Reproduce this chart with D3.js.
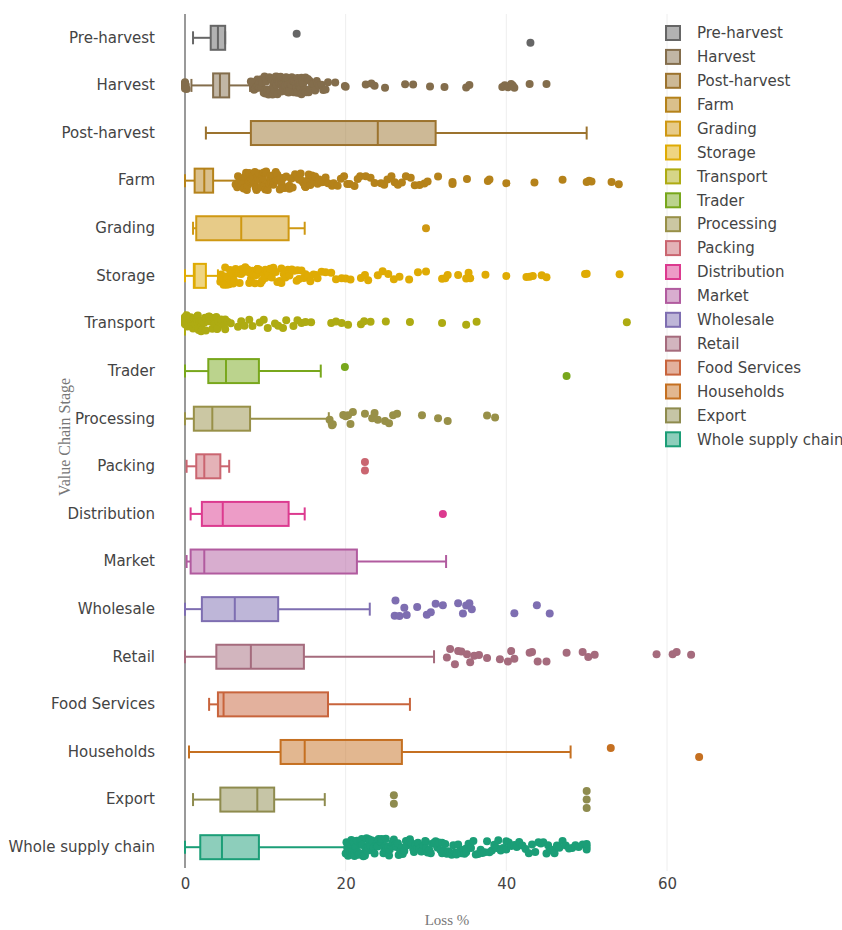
<!DOCTYPE html>
<html>
<head>
<meta charset="utf-8">
<script src="https://cdn.jsdelivr.net/npm/d3@7/dist/d3.min.js"></script>
<style>
  html, body { margin: 0; padding: 0; background: #fff; }
  svg { display: block; }
</style>
</head>
<body>
<svg id="chart" width="842" height="930"></svg>
<script>
// Value chain stages, listed top to bottom
const categories = ["Pre-harvest", "Harvest", "Post-harvest", "Farm", "Grading", "Storage",
  "Transport", "Trader", "Processing", "Packing", "Distribution", "Market", "Wholesale",
  "Retail", "Food Services", "Households", "Export", "Whole supply chain"];

// Box statistics (loss %)
const lowerWhisker = [1.0, 0.8, 2.6, 0.0, 1.0, 0.0, 0.0, 0.0, 0.0, 0.2, 0.7, 0.2, 0.0, 0.0, 3.0, 0.5, 1.0, 0.0];
const q1Values     = [3.2, 3.5, 8.2, 1.2, 1.4, 1.1, 0.0, 2.9, 1.1, 1.4, 2.1, 0.7, 2.1, 3.9, 4.1, 11.9, 4.4, 1.9];
const medianValues = [4.1, 4.35, 24.0, 2.4, 7.0, 1.2, 0.0, 5.1, 3.4, 2.4, 4.7, 2.4, 6.2, 8.2, 4.8, 14.9, 9.0, 4.6];
const q3Values     = [5.0, 5.5, 31.2, 3.5, 12.9, 2.6, 0.0, 9.2, 8.1, 4.4, 12.9, 21.4, 11.6, 14.8, 17.8, 27.0, 11.1, 9.2];
const upperWhisker = [5.0, 8.1, 50.0, 6.5, 14.9, 4.1, 0.0, 16.9, 17.9, 5.5, 14.9, 32.5, 23.0, 31.0, 28.0, 48.0, 17.4, 19.9];

// Points beyond the whiskers, one list per stage
const preHarvestOutliers = [13.9, 43.0];
const harvestOutliers = [0, 0, 0, 0, 0, 0, 0.1, 0.2,
  8.2, 8.3, 8.5, 8.6, 8.7, 8.8, 9.0, 9.0, 9.1, 9.2, 9.3, 9.5, 9.5, 9.6, 9.8, 9.9, 10.0, 10.0,
  10.0, 10.1, 10.2, 10.3, 10.4, 10.5, 10.5, 10.6, 10.7, 10.8, 10.9, 11.0, 11.0, 11.0, 11.1,
  11.2, 11.3, 11.4, 11.5, 11.5, 11.6, 11.7, 11.8, 11.9, 12.0, 12.0, 12.0, 12.1, 12.2, 12.3,
  12.4, 12.5, 12.5, 12.6, 12.7, 12.8, 12.9, 13.0, 13.0, 13.0, 13.1, 13.2, 13.3, 13.4, 13.5,
  13.5, 13.6, 13.7, 13.8, 13.9, 14.0, 14.0, 14.0, 14.1, 14.2, 14.3, 14.4, 14.5, 14.5, 14.6,
  14.7, 14.8, 15.0, 15.0, 15.0, 15.1, 15.3, 15.4, 15.5, 15.6, 15.8, 16.0, 16.0, 16.2, 16.4,
  16.5, 16.7, 17.0, 17.2, 17.5, 17.8,
  18.7, 19.9, 20.0, 22.5, 23.2, 23.6, 24.9, 27.4, 28.4, 30.5, 32.3, 35.0, 35.4,
  39.5, 39.8, 40.2, 40.6, 40.8, 41.0, 42.9, 45.0];
const postHarvestOutliers = [];
const farmOutliers = [6.3, 6.5, 6.6, 6.7, 6.9, 7.0, 7.0, 7.1, 7.2, 7.3, 7.4, 7.5, 7.6, 7.7, 7.8,
  7.9, 8.0, 8.0, 8.1, 8.2, 8.3, 8.4, 8.5, 8.6, 8.7, 8.8, 8.9, 9.0, 9.0, 9.1, 9.2, 9.3, 9.4,
  9.5, 9.6, 9.7, 9.8, 9.9, 10.0, 10.0, 10.1, 10.2, 10.3, 10.4, 10.5, 10.6, 10.7, 10.8, 10.9,
  11.0, 11.0, 11.2, 11.3, 11.4, 11.5, 11.6, 11.8, 11.9, 12.0, 12.0, 12.2, 12.3, 12.5, 12.6,
  12.8, 13.0, 13.0, 13.2, 13.4, 13.5, 13.7, 13.9, 14.0, 14.0, 14.2, 14.4, 14.5, 14.7, 14.9,
  15.0, 15.0, 15.2, 15.4, 15.6, 15.8, 16.0, 16.0, 16.2, 16.5, 16.7, 17.0, 17.2, 17.5, 17.8,
  18.3, 18.5, 19.0, 19.4, 19.8, 20.2, 20.5, 21.1, 21.5, 21.8, 22.5, 23.1, 23.6, 24.4, 24.8,
  25.2, 25.7, 26.1, 26.5, 27.0, 27.5, 28.1, 28.6, 29.2, 29.8, 30.2, 31.5, 33.3, 33.3, 35.1,
  37.7, 37.9, 40.0, 43.5, 47.0, 50.0, 50.3, 50.6, 53.1, 54.0];
const gradingOutliers = [30.0];
const storageOutliers = [4.4, 4.5, 4.6, 4.7, 4.8, 5.0, 5.0, 5.1, 5.2, 5.3, 5.5, 5.6, 5.7, 5.8,
  6.0, 6.0, 6.1, 6.3, 6.4, 6.5, 6.7, 6.8, 7.0, 7.0, 7.2, 7.3, 7.5, 7.6, 7.8, 8.0, 8.0, 8.2,
  8.4, 8.5, 8.7, 8.9, 9.0, 9.0, 9.2, 9.4, 9.6, 9.8, 10.0, 10.0, 10.2, 10.4, 10.6, 10.8, 11.0,
  11.0, 11.3, 11.5, 11.8, 12.0, 12.0, 12.3, 12.5, 12.8, 13.0, 13.0, 13.3, 13.6, 13.9, 14.0,
  14.2, 14.5, 14.8, 15.0, 15.0, 15.3, 15.6, 16.0, 16.3, 16.5,
  17.0, 17.5, 18.2, 18.8, 19.5, 20.0, 20.6, 21.9, 22.4, 22.8, 24.0, 24.6, 25.3, 26.0, 26.7,
  27.9, 29.0, 30.0, 32.0, 32.4, 32.7, 34.0, 35.0, 35.3, 35.5, 37.4, 40.0, 42.5, 42.9, 43.3,
  44.4, 45.0, 49.8, 50.0, 54.1];
const transportOutliers = [0, 0, 0, 0, 0, 0, 0, 0, 0.1, 0.2, 0.3, 0.4, 0.5, 0.5, 0.6, 0.7, 0.8,
  0.9, 1.0, 1.0, 1.0, 1.1, 1.2, 1.3, 1.4, 1.5, 1.5, 1.6, 1.7, 1.8, 1.9, 2.0, 2.0, 2.0, 2.1,
  2.2, 2.4, 2.5, 2.5, 2.6, 2.7, 2.9, 3.0, 3.0, 3.0, 3.2, 3.4, 3.5, 3.7, 3.9, 4.0, 4.0, 4.2,
  4.5, 4.8, 5.0, 5.0, 5.3, 5.7,
  6.6, 7.0, 7.4, 8.0, 8.4, 9.3, 9.8, 10.3, 11.2, 11.6, 12.2, 12.6, 13.5, 14.0, 14.5, 15.0,
  15.7, 18.2, 18.8, 19.5, 20.3, 21.9, 22.3, 23.1, 25.0, 28.0, 32.0, 35.0, 36.3, 55.0];
const traderOutliers = [19.9, 47.5];
const processingOutliers = [18.0, 18.3, 18.4, 19.7, 20.0, 20.3, 20.6, 20.9, 22.4, 23.3, 23.6,
  24.0, 24.9, 25.4, 25.9, 26.4, 29.5, 31.5, 32.7, 37.6, 38.6];
const packingOutliers = [22.4, 22.4];
const distributionOutliers = [32.1];
const marketOutliers = [];
const wholesaleOutliers = [26.1, 26.2, 26.7, 27.3, 27.6, 28.9, 30.1, 30.6, 31.2, 32.1, 34.0,
  34.6, 35.0, 35.4, 35.7, 41.0, 43.8, 45.4];
const retailOutliers = [32.6, 33.0, 33.6, 34.0, 34.4, 35.1, 35.5, 36.0, 36.6, 37.6, 39.2, 40.2,
  40.6, 41.0, 42.9, 43.2, 43.9, 45.0, 47.5, 49.5, 50.2, 51.0, 58.7, 60.7, 61.2, 63.0];
const foodServicesOutliers = [];
const householdsOutliers = [53.0, 64.0];
const exportOutliers = [26.0, 26.0, 50.0, 50.0, 50.0];
const wholeChainOutliers = [20.0, 20.1, 20.2, 20.3, 20.4, 20.5, 20.6, 20.7, 20.8, 20.9, 21.0,
  21.0, 21.1, 21.2, 21.3, 21.4, 21.5, 21.6, 21.7, 21.8, 21.9, 22.0, 22.0, 22.1, 22.2, 22.3,
  22.4, 22.5, 22.6, 22.7, 22.8, 22.9, 23.0, 23.0, 23.1, 23.3, 23.4, 23.5, 23.6, 23.8, 23.9,
  24.0, 24.0, 24.1, 24.3, 24.4, 24.5, 24.7, 24.8, 25.0, 25.0, 25.1, 25.3, 25.4, 25.5, 25.7,
  25.8, 26.0, 26.0, 26.2, 26.3, 26.5, 26.6, 26.8, 27.0, 27.0, 27.1, 27.3, 27.5, 27.6, 27.8,
  28.0, 28.0, 28.2, 28.4, 28.5, 28.7, 28.9, 29.0, 29.2, 29.4, 29.5, 29.7, 29.9, 30.0, 30.0,
  30.2, 30.4, 30.6, 30.8, 31.0, 31.2, 31.4, 31.6, 31.8, 32.0, 32.0, 32.2, 32.4, 32.6, 32.8,
  33.0, 33.2, 33.4, 33.6, 33.8, 34.0, 34.2, 34.4, 34.6, 34.8, 35.0, 35.0, 35.3, 35.6, 35.9,
  36.2, 36.5, 36.8, 37.0, 37.3, 37.6, 37.9, 38.2, 38.5, 38.8, 39.0, 39.3, 39.6, 40.0, 40.0,
  40.3, 40.6, 41.0, 41.3, 41.6, 42.0, 42.4, 42.8, 43.2, 43.6, 44.0, 44.3, 44.6, 45.0, 45.2,
  45.4, 45.6, 45.8, 46.0, 46.3, 46.6, 47.0, 47.4, 47.8, 48.2, 48.6, 49.0, 49.5, 50.0, 50.0, 50.0];

const outlierLists = [preHarvestOutliers, harvestOutliers, postHarvestOutliers, farmOutliers,
  gradingOutliers, storageOutliers, transportOutliers, traderOutliers, processingOutliers,
  packingOutliers, distributionOutliers, marketOutliers, wholesaleOutliers, retailOutliers,
  foodServicesOutliers, householdsOutliers, exportOutliers, wholeChainOutliers];

// Dark2 anchor colours; the stages take evenly spaced steps through them in Lab space,
// starting from the bottom stage
const dark2 = ["#1b9e77", "#d95f02", "#7570b3", "#e7298a", "#66a61e", "#e6ab02", "#a6761d", "#666666"];
const ramp = d3.piecewise(d3.interpolateLab, dark2);
const n = categories.length;
const stageColors = categories.map((c, i) => d3.color(ramp((n - 1 - i) / (n - 1))).formatHex());

const xTicks = [0, 20, 40, 60];

const svg = d3.select("#chart");
const x = d3.scaleLinear().domain([0, 60]).range([185, 667]);
const y = d3.scaleBand().domain(categories).range([14, 871]).padding(0);
const boxHalf = 12;
const capHalf = 6.5;
const dotR = 4;
const labelFont = "DejaVu Sans, Verdana, sans-serif";
const titleFont = "Liberation Serif, DejaVu Serif, serif";

// vertical gridlines
svg.append("g").selectAll("line")
  .data(xTicks.filter(d => d !== 0))
  .join("line")
  .attr("x1", d => x(d)).attr("x2", d => x(d))
  .attr("y1", 14).attr("y2", 871)
  .attr("stroke", "#eeeeee").attr("stroke-width", 1);

// x axis tick labels
const xAxis = d3.axisBottom(x).tickValues(xTicks).tickSize(0).tickPadding(0);
const gx = svg.append("g").attr("transform", "translate(0,878)").call(xAxis);
gx.select(".domain").remove();
gx.selectAll("text")
  .attr("font-family", labelFont)
  .attr("font-size", 15).attr("fill", "#444").attr("dy", "0.71em");

// y axis category labels
const yAxis = d3.axisLeft(y).tickSize(0).tickPadding(30);
const gy = svg.append("g").attr("transform", "translate(185,0)").call(yAxis);
gy.select(".domain").remove();
gy.selectAll("text")
  .attr("font-family", labelFont)
  .attr("font-size", 15).attr("fill", "#444");

// zero line
svg.append("line")
  .attr("x1", x(0)).attr("x2", x(0)).attr("y1", 14).attr("y2", 868)
  .attr("stroke", "#777").attr("stroke-width", 1.5);

// seeded generator for point jitter
function mulberry32(a) {
  return function() {
    a |= 0; a = a + 0x6D2B79F5 | 0;
    let t = Math.imul(a ^ a >>> 15, 1 | a);
    t = t + Math.imul(t ^ t >>> 7, 61 | t) ^ t;
    return ((t ^ t >>> 14) >>> 0) / 4294967296;
  };
}

const plot = svg.append("g");
categories.forEach((cat, i) => {
  const col = stageColors[i];
  const cy = y(cat) + y.bandwidth() / 2;
  const g = plot.append("g");

  // whiskers
  g.append("line").attr("x1", x(lowerWhisker[i])).attr("x2", x(q1Values[i]))
    .attr("y1", cy).attr("y2", cy).attr("stroke", col).attr("stroke-width", 2);
  g.append("line").attr("x1", x(q3Values[i])).attr("x2", x(upperWhisker[i]))
    .attr("y1", cy).attr("y2", cy).attr("stroke", col).attr("stroke-width", 2);
  [lowerWhisker[i], upperWhisker[i]].forEach(v => {
    g.append("line").attr("x1", x(v)).attr("x2", x(v))
      .attr("y1", cy - capHalf).attr("y2", cy + capHalf)
      .attr("stroke", col).attr("stroke-width", 2);
  });

  // box and median
  g.append("rect")
    .attr("x", x(q1Values[i])).attr("y", cy - boxHalf)
    .attr("width", x(q3Values[i]) - x(q1Values[i])).attr("height", boxHalf * 2)
    .attr("fill", col).attr("fill-opacity", 0.5)
    .attr("stroke", col).attr("stroke-width", 2);
  g.append("line").attr("x1", x(medianValues[i])).attr("x2", x(medianValues[i]))
    .attr("y1", cy - boxHalf).attr("y2", cy + boxHalf)
    .attr("stroke", col).attr("stroke-width", 2);

  // outlying points
  const pts = outlierLists[i].slice().sort((a, b) => a - b);
  if (!pts.length) return;
  let offsets;
  if (pts.length <= 5) {
    // few points: equal values are stacked evenly around the centre line
    const groups = d3.group(pts.map((v, k) => ({ v, k })), d => d.v);
    offsets = new Array(pts.length).fill(0);
    groups.forEach(arr => {
      const m = arr.length;
      arr.forEach((p, j) => { offsets[p.k] = (j - (m - 1) / 2) * 8.5; });
    });
    if (pts.length === 2 && pts[0] !== pts[1]) { offsets = [-4, 5]; }
  } else {
    // crowded points spread further than isolated ones
    const rand = mulberry32(1000 + i * 37);
    const typical = 1.5;
    const factors = pts.map((v, k) => {
      const k0 = Math.max(0, k - 5), k1 = Math.min(pts.length - 1, k + 5);
      return Math.sqrt((k1 - k0) / (pts[k1] - pts[k0] + typical));
    });
    const maxF = d3.max(factors) || 1;
    offsets = pts.map((v, k) => (rand() - 0.5) * 2 * 9.5 * (factors[k] / maxF));
  }
  g.selectAll("circle").data(pts).join("circle")
    .attr("cx", d => x(d))
    .attr("cy", (d, k) => cy + offsets[k])
    .attr("r", dotR)
    .attr("fill", col);
});

// legend
const legend = svg.append("g").attr("transform", "translate(665,26)");
categories.forEach((cat, i) => {
  const col = stageColors[i];
  const row = legend.append("g").attr("transform", `translate(0,${i * 23.9})`);
  row.append("rect").attr("x", 1).attr("y", 0).attr("width", 14).attr("height", 14)
    .attr("fill", col).attr("fill-opacity", 0.5)
    .attr("stroke", col).attr("stroke-width", 2);
  row.append("text").attr("x", 32).attr("y", 7).attr("dy", "0.35em")
    .attr("font-family", labelFont)
    .attr("font-size", 15).attr("fill", "#444").text(cat);
});

// axis titles
svg.append("text").attr("x", 447).attr("y", 925)
  .attr("text-anchor", "middle")
  .attr("font-family", titleFont)
  .attr("font-size", 15).attr("fill", "#777").text("Loss %");
svg.append("text")
  .attr("transform", "translate(70,437) rotate(-90)")
  .attr("text-anchor", "middle")
  .attr("font-family", titleFont)
  .attr("font-size", 16).attr("fill", "#777").text("Value Chain Stage");
</script>
</body>
</html>
